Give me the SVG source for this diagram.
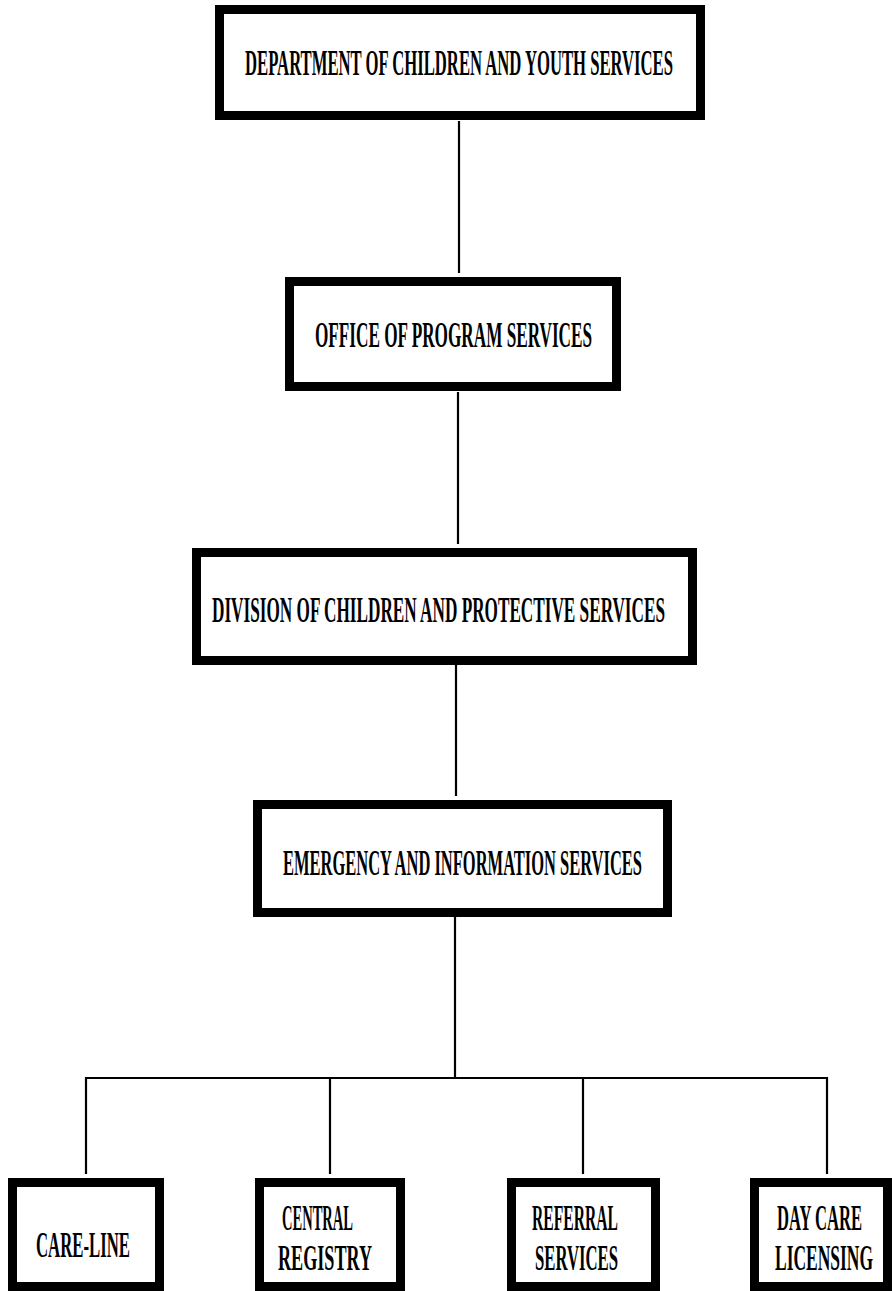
<svg xmlns="http://www.w3.org/2000/svg" width="892" height="1291" viewBox="0 0 892 1291">
<style>
.box{fill:#fff;stroke:#000;stroke-width:9}
.lbl{font-family:"Liberation Serif","DejaVu Serif",serif;font-weight:bold;font-size:35px;fill:#000}
.conn{stroke:#000;stroke-width:2.2;fill:none}
</style>
<rect width="892" height="1291" fill="#fff"/>
<g id="connectors">
<line class="conn" x1="459" y1="121" x2="459" y2="273"/>
<line class="conn" x1="458" y1="392" x2="458" y2="544"/>
<line class="conn" x1="456" y1="665" x2="456" y2="796"/>
<line class="conn" x1="455" y1="917" x2="455" y2="1078"/>
<line class="conn" x1="85" y1="1078" x2="828" y2="1078"/>
<line class="conn" x1="86" y1="1077" x2="86" y2="1174"/>
<line class="conn" x1="330" y1="1077" x2="330" y2="1174"/>
<line class="conn" x1="583" y1="1077" x2="583" y2="1174"/>
<line class="conn" x1="827" y1="1077" x2="827" y2="1174"/>
</g>
<g id="dept">
<rect class="box" x="219.5" y="9.5" width="481" height="106"/>
<text class="lbl" x="245" y="75" textLength="428" lengthAdjust="spacingAndGlyphs">DEPARTMENT OF CHILDREN AND YOUTH SERVICES</text>
</g>
<g id="office">
<rect class="box" x="289.5" y="281.5" width="327" height="105"/>
<text class="lbl" x="315" y="347" textLength="277" lengthAdjust="spacingAndGlyphs">OFFICE OF PROGRAM SERVICES</text>
</g>
<g id="division">
<rect class="box" x="196.5" y="552.5" width="496" height="108"/>
<text class="lbl" x="212" y="622" textLength="453" lengthAdjust="spacingAndGlyphs">DIVISION OF CHILDREN AND PROTECTIVE SERVICES</text>
</g>
<g id="emergency">
<rect class="box" x="257.5" y="804.5" width="410" height="108"/>
<text class="lbl" x="283" y="875" textLength="359" lengthAdjust="spacingAndGlyphs">EMERGENCY AND INFORMATION SERVICES</text>
</g>
<g id="careline">
<rect class="box" x="12.5" y="1182.5" width="147" height="104"/>
<text class="lbl" x="36" y="1257" textLength="94" lengthAdjust="spacingAndGlyphs">CARE-LINE</text>
</g>
<g id="central">
<rect class="box" x="259.5" y="1182.5" width="141" height="104"/>
<text class="lbl" x="282" y="1230" textLength="71" lengthAdjust="spacingAndGlyphs">CENTRAL</text>
<text class="lbl" x="278" y="1270" textLength="94" lengthAdjust="spacingAndGlyphs">REGISTRY</text>
</g>
<g id="referral">
<rect class="box" x="511.5" y="1182.5" width="144" height="104"/>
<text class="lbl" x="532" y="1230" textLength="86" lengthAdjust="spacingAndGlyphs">REFERRAL</text>
<text class="lbl" x="535" y="1270" textLength="83" lengthAdjust="spacingAndGlyphs">SERVICES</text>
</g>
<g id="daycare">
<rect class="box" x="754.5" y="1182.5" width="133" height="104"/>
<text class="lbl" x="777" y="1230" textLength="85" lengthAdjust="spacingAndGlyphs">DAY CARE</text>
<text class="lbl" x="775" y="1270" textLength="98" lengthAdjust="spacingAndGlyphs">LICENSING</text>
</g>
</svg>
